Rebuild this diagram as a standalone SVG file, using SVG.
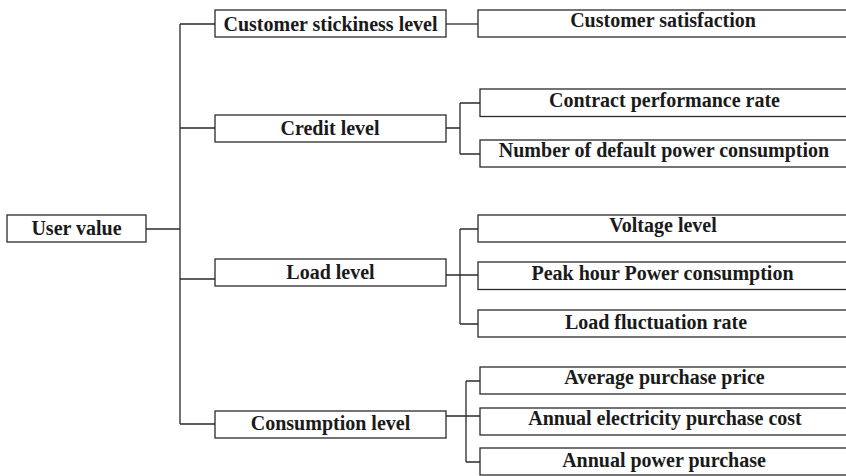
<svg xmlns="http://www.w3.org/2000/svg" width="846" height="476" viewBox="0 0 846 476">
<style>
rect{fill:#fff;stroke:#2a2a2a;stroke-width:1.3}
text{font-family:"Liberation Serif","Times New Roman",serif;font-weight:bold;font-size:20px;fill:#1a1a1a;text-anchor:middle}
#connectors path{fill:none;stroke:#2a2a2a;stroke-width:1.3}
</style>
<rect x="0" y="0" width="846" height="476" style="stroke:none"/>
<g id="connectors">
<path d="M180,24V424M146,229H180M180,24H215M180,128H215M180,279H215M180,424H215"/>
<path d="M446,24H478"/>
<path d="M446,128H460M460,103V154M460,103H480M460,154H480"/>
<path d="M446,275H478M460,229V324M460,229H478M460,324H478"/>
<path d="M446,416H480M466,381V462M466,381H480M466,462H480"/>
</g>
<g id="user-value"><rect x="7" y="215" width="139" height="27"/><text x="76.5" y="234.5">User value</text></g>
<g id="customer-stickiness"><rect x="215" y="10" width="231" height="27"/><text x="330.5" y="30.5">Customer stickiness level</text></g>
<g id="credit-level"><rect x="215" y="115" width="231" height="27"/><text x="330" y="135">Credit level</text></g>
<g id="load-level"><rect x="215" y="259" width="231" height="27"/><text x="330.5" y="278.5">Load level</text></g>
<g id="consumption-level"><rect x="215" y="411" width="231" height="27"/><text x="330.5" y="430">Consumption level</text></g>
<g id="customer-satisfaction"><rect x="478" y="10" width="380" height="27"/><text x="663" y="26.5">Customer satisfaction</text></g>
<g id="contract-performance"><rect x="480" y="89" width="380" height="27.5"/><text x="664.5" y="106.5">Contract performance rate</text></g>
<g id="default-consumption"><rect x="480" y="140" width="380" height="27"/><text x="664" y="156.5">Number of default power consumption</text></g>
<g id="voltage-level"><rect x="478" y="215" width="380" height="27"/><text x="663" y="231.5">Voltage level</text></g>
<g id="peak-hour"><rect x="478" y="262" width="380" height="27.5"/><text x="662.5" y="280">Peak hour Power consumption</text></g>
<g id="load-fluctuation"><rect x="478" y="310" width="380" height="27"/><text x="656" y="328.5">Load fluctuation rate</text></g>
<g id="average-price"><rect x="480" y="367" width="380" height="27"/><text x="664.5" y="383.5">Average purchase price</text></g>
<g id="annual-cost"><rect x="480" y="408" width="380" height="27"/><text x="665" y="425">Annual electricity purchase cost</text></g>
<g id="annual-power"><rect x="480" y="448" width="380" height="27"/><text x="664" y="466.5">Annual power purchase</text></g>
</svg>
